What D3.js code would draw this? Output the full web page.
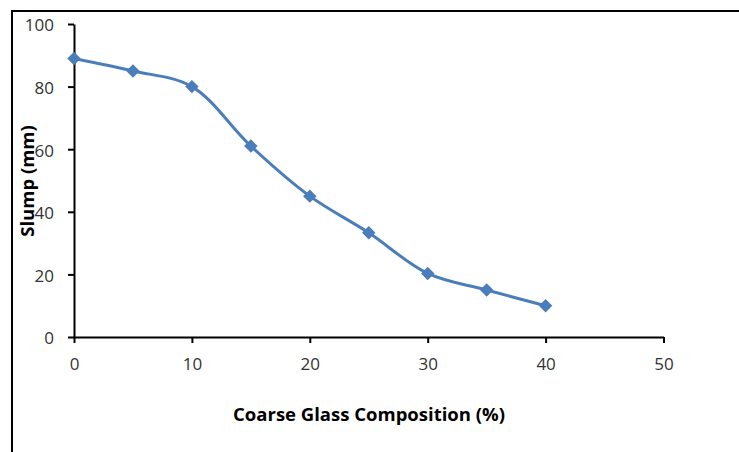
<!DOCTYPE html>
<html><head><meta charset="utf-8">
<script src="https://cdn.jsdelivr.net/npm/d3@7"></script>
<style>
html,body{margin:0;padding:0;background:#fff;}
svg{display:block;}
</style></head>
<body>
<svg id="chart" width="739" height="452"></svg>
<script>
const xValues = [0, 5, 10, 15, 20, 25, 30, 35, 40];
const slumpValues = [89, 85, 80, 61, 45, 33.3, 20.3, 15, 10];
const xTicks = [0, 10, 20, 30, 40, 50];
const yTicks = [0, 20, 40, 60, 80, 100];
const xTitle = "Coarse Glass Composition (%)";
const yTitle = "Slump (mm)";

const svg = d3.select("#chart");
const font = "'Open Sans', 'DejaVu Sans', sans-serif";

// frame (top and left edges)
svg.append("line").attr("x1",12).attr("x2",739).attr("y1",11).attr("y2",11)
  .attr("stroke","#000").attr("stroke-width",2);
svg.append("line").attr("x1",12).attr("x2",12).attr("y1",10).attr("y2",452)
  .attr("stroke","#000").attr("stroke-width",2);

const x = d3.scaleLinear().domain([0,50]).range([74,663.5]);
const y = d3.scaleLinear().domain([0,100]).range([337,24]);

const xAxis = svg.append("g").attr("transform",`translate(0,${y(0)})`)
  .call(d3.axisBottom(x).tickValues(xTicks).tickSize(6).tickPadding(15).tickSizeOuter(0));
const yAxis = svg.append("g").attr("transform",`translate(${x(0)},0)`)
  .call(d3.axisLeft(y).tickValues(yTicks).tickSize(6).tickPadding(14).tickSizeOuter(0));

[xAxis,yAxis].forEach(g=>{
  g.select(".domain").attr("stroke","#000").attr("stroke-width",2);
  g.selectAll(".tick line").attr("stroke","#000").attr("stroke-width",2);
  g.selectAll(".tick text").attr("fill","#333").style("font-family",font).style("font-size","17px");
});
yAxis.selectAll(".tick text").attr("dy","0.4em");

// line
const line = d3.line().x((d,i)=>x(xValues[i])).y(d=>y(d)).curve(d3.curveCatmullRom.alpha(0.5));
svg.append("path").datum(slumpValues).attr("d",line)
  .attr("fill","none").attr("stroke","#4a7ebb").attr("stroke-width",3);

// markers
const sym = d3.symbol().type(d3.symbolSquare).size(90);
svg.selectAll(".mk").data(slumpValues).enter().append("path")
  .attr("class","mk").attr("d",sym)
  .attr("transform",(d,i)=>`translate(${x(xValues[i])},${y(d)}) rotate(45)`)
  .attr("fill","#4a7ebb");

// titles
svg.append("text").attr("x",369).attr("y",421).attr("text-anchor","middle")
  .style("font-family",font).style("font-weight","bold").style("font-size","18.5px")
  .attr("fill","#000").text(xTitle);
svg.append("text").attr("transform","translate(34,181) rotate(-90)").attr("text-anchor","middle")
  .style("font-family",font).style("font-weight","bold").style("font-size","18.5px")
  .attr("fill","#000").text(yTitle);
</script>
</body></html>
